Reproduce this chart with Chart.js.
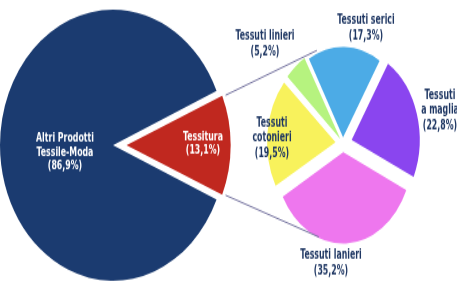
<!DOCTYPE html>
<html>
<head>
<meta charset="utf-8">
<script src="https://cdn.jsdelivr.net/npm/chart.js@4/dist/chart.umd.min.js"></script>
<style>
  html { overflow: hidden; }
  body { margin: 0; padding: 0; background: #fff; }
  .wrap { position: absolute; left: 0; top: 0; width: 457px; transform-origin: 0 0; }
  .wrap canvas { display: block; }
</style>
</head>
<body>
<div class="wrap" id="wrapSx"><canvas id="torta" width="457" height="245"></canvas></div>
<div class="wrap" id="wrapDx"><canvas id="dettaglio" width="457" height="220"></canvas></div>
<script>
// dati
const mainLabels = [['Altri Prodotti', 'Tessile-Moda'], ['Tessitura']];
const mainValues = [86.9, 13.1];
const mainColors = ['#1b3b70', '#c0281f'];

const subLabels = [['Tessuti serici'], ['Tessuti', 'a maglia'], ['Tessuti lanieri'], ['Tessuti', 'cotonieri'], ['Tessuti linieri']];
const subValues = [17.3, 22.8, 35.2, 19.5, 5.2];
const subColors = ['#4cabe6', '#8a45ef', '#ee77ee', '#f8f25c', '#b6f37f'];

// l'immagine originale è stirata in verticale
const scalaSx = 1.2;
const scalaDx = 1.32;
document.getElementById('wrapSx').style.transform = 'scaleY(' + scalaSx + ')';
document.getElementById('wrapDx').style.transform = 'scaleY(' + scalaDx + ')';

function perc(v) {
    return '(' + v.toFixed(1).replace('.', ',') + '%)';
}

// raggio effettivo di una fetta esplosa (Chart.js allarga le fette con offset)
function geometria(arc) {
    const off = arc.options.offset || 0;
    const circ = arc.endAngle - arc.startAngle;
    const fix = 1 - Math.sin(Math.min(Math.PI, circ));
    const mid = (arc.startAngle + arc.endAngle) / 2;
    const t = off / 4 * (1 + fix);
    return {
        x: arc.x + Math.cos(mid) * t,
        y: arc.y + Math.sin(mid) * t,
        r: arc.outerRadius + off / 4 * fix
    };
}

// la fetta Tessitura è più piccola della torta principale
const ridotta = {
    id: 'ridotta',
    beforeDatasetsDraw(chart, args, opts) {
        const arc = chart.getDatasetMeta(0).data[opts.index];
        arc.outerRadius = arc.outerRadius * opts.factor;
    }
};

// etichette sulle fette, posizione relativa al centro della torta
const etichette = {
    id: 'etichette',
    afterDraw(chart, args, opts) {
        const ctx = chart.ctx;
        const arcs = chart.getDatasetMeta(0).data;
        const values = chart.data.datasets[0].data;
        ctx.save();
        ctx.font = 'bold 10px "DejaVu Sans Condensed", "DejaVu Sans", sans-serif';
        ctx.textAlign = 'center';
        ctx.textBaseline = 'middle';
        arcs.forEach(function (arc, i) {
            const righe = chart.data.labels[i].concat([perc(values[i])]);
            const cx = arc.x + opts.dx[i];
            const cy = arc.y + opts.dy[i];
            ctx.fillStyle = opts.colors[i];
            righe.forEach(function (t, k) {
                ctx.save();
                ctx.translate(cx, cy + (k - (righe.length - 1) / 2) * opts.lineHeight);
                ctx.scale(0.87, 1);
                ctx.fillText(t, 0, 0);
                ctx.restore();
            });
        });
        ctx.restore();
    }
};

// linee di collegamento fra la fetta Tessitura e la torta di dettaglio
const collegamento = {
    id: 'collegamento',
    afterDraw(chart) {
        const red = graficoPrincipale.getDatasetMeta(0).data[1];
        const g = geometria(red);
        const first = chart.getDatasetMeta(0).data[0];
        const C = { x: first.x, y: first.y };
        const R = first.outerRadius + 7;
        const ctx = chart.ctx;
        ctx.save();
        ctx.strokeStyle = '#75739f';
        ctx.lineWidth = 1;
        [[red.startAngle, 1], [red.endAngle, -1]].forEach(function (p) {
            const px = g.x + Math.cos(p[0]) * g.r;
            const py = (g.y + Math.sin(p[0]) * g.r) * scalaSx / scalaDx;
            const vx = px - C.x, vy = py - C.y;
            const d = Math.sqrt(vx * vx + vy * vy);
            const a = Math.atan2(vy, vx) + p[1] * Math.acos(R / d);
            ctx.beginPath();
            ctx.moveTo(px, py);
            ctx.lineTo(C.x + Math.cos(a) * R, C.y + Math.sin(a) * R);
            ctx.stroke();
        });
        ctx.restore();
    }
};

const baseOptions = {
    responsive: false,
    animation: false,
    devicePixelRatio: 1,
    events: [],
};

const graficoPrincipale = new Chart(document.getElementById('torta'), {
    type: 'pie',
    data: {
        labels: mainLabels,
        datasets: [{
            data: mainValues,
            backgroundColor: mainColors,
            borderWidth: 0,
            offset: [0, 54],
            radius: 113,
            clip: false
        }]
    },
    options: Object.assign({}, baseOptions, {
        rotation: 90 + mainValues[1] / 100 * 180,
        layout: { padding: { left: 0, right: 231, top: 0, bottom: 3 } },
        plugins: {
            legend: { display: false },
            tooltip: { enabled: false },
            ridotta: { index: 1, factor: 0.89 },
            etichette: { dx: [-48, 90], dy: [6, -1], lineHeight: 11.5, colors: ['#ffffff', '#ffffff'] }
        }
    }),
    plugins: [ridotta, etichette]
});

new Chart(document.getElementById('dettaglio'), {
    type: 'pie',
    data: {
        labels: subLabels,
        datasets: [{
            data: subValues,
            backgroundColor: subColors,
            borderWidth: 0,
            offset: [18, 36, 27, 30, 17],
            radius: 68,
            clip: false
        }]
    },
    options: Object.assign({}, baseOptions, {
        rotation: -30,
        layout: { padding: { left: 243, right: 14, top: 0, bottom: 3 } },
        plugins: {
            legend: { display: false },
            tooltip: { enabled: false },
            etichette: {
                dx: [23, 97, -12, -71, -78],
                dy: [-87, -25, 91, -4, -75],
                lineHeight: 11.5,
                colors: ['#1f3763', '#1f3763', '#1f3763', '#1f3763', '#1f3763']
            }
        }
    }),
    plugins: [etichette, collegamento]
});
</script>
</body>
</html>
